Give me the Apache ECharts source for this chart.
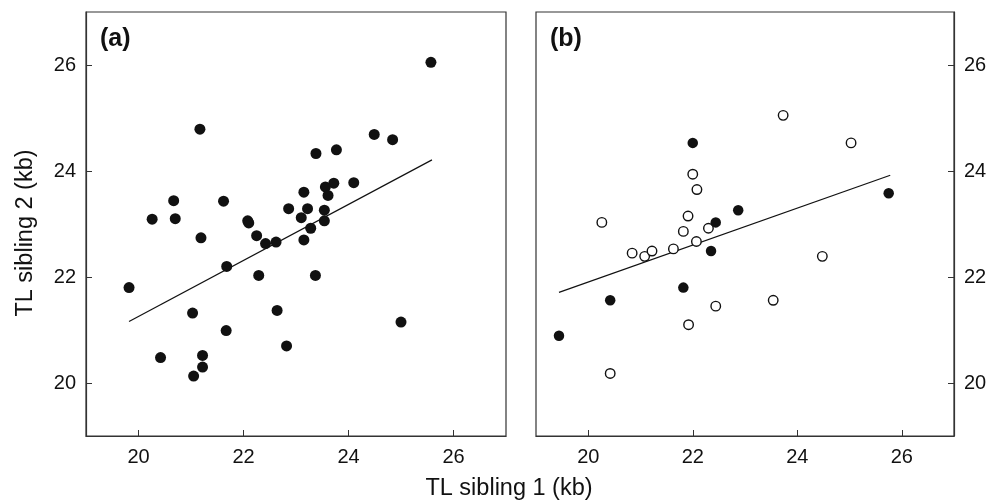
<!DOCTYPE html>
<html>
<head>
<meta charset="utf-8">
<script src="https://cdn.jsdelivr.net/npm/echarts@6/dist/echarts.min.js"></script>
<style>html,body{margin:0;padding:0;background:#fff}#c{width:1002px;height:503px}</style>
</head>
<body>
<div id="c"></div>
<script>
// Panel (a): all sibling pairs (x = TL sibling 1, y = TL sibling 2)
var panelA = [
  [25.57,26.05],[21.17,24.79],[24.49,24.69],[24.84,24.59],[23.38,24.33],[23.77,24.40],
  [24.10,23.78],[23.72,23.77],[23.56,23.70],[23.61,23.54],[23.15,23.60],[20.67,23.44],
  [21.62,23.43],[20.26,23.09],[20.70,23.10],[22.08,23.06],[22.10,23.02],[22.86,23.29],
  [23.22,23.29],[23.54,23.26],[23.10,23.12],[23.54,23.06],[23.28,22.92],[21.19,22.74],
  [22.25,22.78],[22.42,22.63],[22.62,22.66],[23.15,22.70],[21.68,22.20],[22.29,22.03],
  [23.37,22.03],[19.82,21.80],[21.03,21.32],[22.64,21.37],[25.00,21.15],[21.67,20.99],
  [22.82,20.70],[20.42,20.48],[21.22,20.52],[21.22,20.30],[21.05,20.13]
];
var fitA = [[19.82,21.16],[25.59,24.21]];

// Panel (b): filled and open groups
var panelBFilled = [
  [22.00,24.53],[25.75,23.58],[22.87,23.26],[22.44,23.03],[22.35,22.49],
  [21.82,21.80],[20.42,21.56],[19.44,20.89]
];
var panelBOpen = [
  [23.73,25.05],[25.03,24.53],[22.00,23.94],[22.08,23.65],[20.26,23.03],[21.91,23.15],
  [21.82,22.86],[22.30,22.92],[22.07,22.67],[20.84,22.45],[21.08,22.39],[21.22,22.49],
  [21.63,22.53],[24.48,22.39],[23.54,21.56],[22.44,21.45],[21.92,21.10],[20.42,20.18]
];
var fitB = [[19.44,21.71],[25.78,23.92]];

var ticks = [20,22,24,26];
var xTitle = 'TL sibling 1 (kb)';
var yTitle = 'TL sibling 2 (kb)';
var panelLabels = ['(a)','(b)'];

var font = '"Liberation Sans", Arial, Helvetica, sans-serif';
var axisColor = '#333';

function xAxisCfg(gi){
  return {
    type:'value', gridIndex:gi, min:19, max:27, interval:1,
    axisLine:{show:true, onZero:false, lineStyle:{color:axisColor, width:1.2}},
    axisTick:{show:true, inside:true, length:6, lineStyle:{color:axisColor},
      customValues: ticks},
    axisLabel:{color:'#111', fontSize:20, fontFamily:font, margin:11,
      customValues: ticks},
    splitLine:{show:false}
  };
}
function yAxisCfg(gi, pos){
  return {
    type:'value', gridIndex:gi, min:19, max:27, interval:1, position:pos,
    axisLine:{show:true, onZero:false, lineStyle:{color:axisColor, width:1.2}},
    axisTick:{show:true, inside:true, length:6, lineStyle:{color:axisColor},
      customValues: ticks},
    axisLabel:{color:'#111', fontSize:20, fontFamily:font, margin:10,
      customValues: ticks},
    splitLine:{show:false}
  };
}

var chart = echarts.init(document.getElementById('c'), null, {renderer:'canvas'});
chart.setOption({
  backgroundColor:'#fff',
  animation:false,
  grid:[
    {left:86, top:12, width:420, height:424, show:true, borderColor:axisColor, borderWidth:1.2, backgroundColor:'transparent'},
    {left:536, top:12, width:418, height:424, show:true, borderColor:axisColor, borderWidth:1.2, backgroundColor:'transparent'}
  ],
  xAxis:[xAxisCfg(0), xAxisCfg(1)],
  yAxis:[yAxisCfg(0,'left'), yAxisCfg(1,'right')],
  series:[
    {type:'line', xAxisIndex:0, yAxisIndex:0, data:fitA, symbol:'none',
      lineStyle:{color:'#111', width:1.2}, z:1},
    {type:'scatter', xAxisIndex:0, yAxisIndex:0, data:panelA, symbol:'circle', symbolSize:11,
      itemStyle:{color:'#111', opacity:1}, z:2},
    {type:'line', xAxisIndex:1, yAxisIndex:1, data:fitB, symbol:'none',
      lineStyle:{color:'#111', width:1.2}, z:1},
    {type:'scatter', xAxisIndex:1, yAxisIndex:1, data:panelBOpen, symbol:'circle', symbolSize:9.5,
      itemStyle:{color:'#fff', borderColor:'#111', borderWidth:1.4, opacity:1}, z:2},
    {type:'scatter', xAxisIndex:1, yAxisIndex:1, data:panelBFilled, symbol:'circle', symbolSize:10.5,
      itemStyle:{color:'#111', opacity:1}, z:3}
  ],
  graphic:[
    {type:'text', left:100, top:27, style:{text:panelLabels[0], font:'bold 25px '+font, fill:'#111'}},
    {type:'text', left:550, top:27, style:{text:panelLabels[1], font:'bold 25px '+font, fill:'#111'}},
    {type:'text', x:509, y:489, style:{text:xTitle, font:'23.5px '+font, fill:'#111', align:'center', verticalAlign:'middle'}},
    {type:'text', x:26, y:233, rotation:Math.PI/2, style:{text:yTitle, font:'23.5px '+font, fill:'#111', align:'center', verticalAlign:'middle'}}
  ]
});
</script>
</body>
</html>
